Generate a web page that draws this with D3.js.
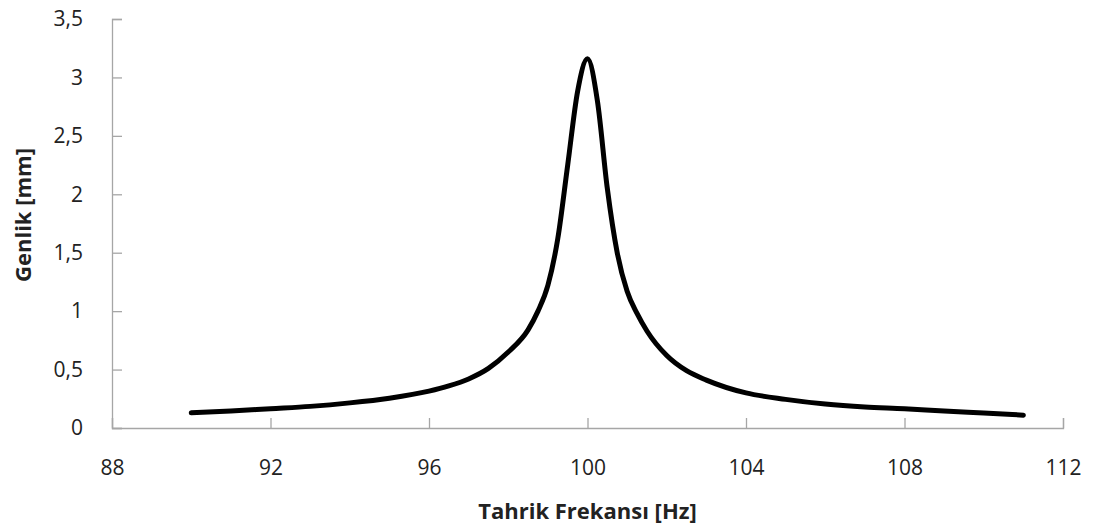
<!DOCTYPE html>
<html>
<head>
<meta charset="utf-8">
<script src="https://cdn.jsdelivr.net/npm/d3@7"></script>
<style>
  body { margin: 0; background: #fff; }
  text { font-family: "Open Sans", sans-serif; fill: #222; }
</style>
</head>
<body>
<svg id="chart"></svg>
<script>
'use strict';

const frequencies = [90, 91, 92, 93, 94, 95, 96, 96.5, 97, 97.5, 98, 98.5, 98.75, 99, 99.25, 99.5, 99.75,
  100, 100.25, 100.5, 100.75, 101, 101.25, 101.5, 102, 102.5, 103, 104, 105, 106, 107, 108, 109, 110, 111];
const amplitudes = [0.13, 0.145, 0.165, 0.185, 0.215, 0.255, 0.315, 0.36, 0.42, 0.51, 0.65, 0.84, 1.0, 1.22, 1.62, 2.25, 2.88,
  3.16, 2.8, 2.05, 1.5, 1.17, 0.98, 0.83, 0.62, 0.49, 0.41, 0.3, 0.245, 0.205, 0.18, 0.165, 0.145, 0.128, 0.11];
const xTicks = [88, 92, 96, 100, 104, 108, 112];
const yTicks = [0, 0.5, 1, 1.5, 2, 2.5, 3, 3.5];

const W = 1103, H = 529;
const margin = { top: 19, right: 40, bottom: 101, left: 112 };
const width = 1063 - margin.left;
const height = 428 - margin.top;

const svg = d3.select('#chart').attr('width', W).attr('height', H);
const g = svg.append('g').attr('transform', 'translate(' + margin.left + ',' + margin.top + ')');

const x = d3.scaleLinear().domain([88, 112]).range([0, width]);
const y = d3.scaleLinear().domain([0, 3.5]).range([height, 0]);
const fmt = d => String(d).replace('.', ',');

const xAxis = g.append('g')
  .attr('transform', 'translate(0,' + height + ')')
  .call(d3.axisBottom(x).tickValues(xTicks).tickSize(-10).tickPadding(32).tickFormat(fmt));

const yAxis = g.append('g')
  .call(d3.axisLeft(y).tickValues(yTicks).tickSize(-10).tickPadding(29).tickFormat(fmt));

[xAxis, yAxis].forEach(a => {
  a.select('.domain').attr('stroke', '#a6a6a6').attr('stroke-width', 1.3);
  a.selectAll('.tick line').attr('stroke', '#a6a6a6').attr('stroke-width', 1.3);
  a.selectAll('.tick text')
    .style('font-family', '"Open Sans", sans-serif')
    .style('font-size', '21px')
    .attr('fill', '#222');
});

const data = frequencies.map((f, i) => ({ f: f, a: amplitudes[i] }));

g.append('path')
  .datum(data)
  .attr('fill', 'none')
  .attr('stroke', '#000')
  .attr('stroke-width', 5)
  .attr('stroke-linecap', 'round')
  .attr('stroke-linejoin', 'round')
  .attr('d', d3.line().x(d => x(d.f)).y(d => y(d.a)).curve(d3.curveMonotoneX));

svg.append('text')
  .attr('x', margin.left + width / 2)
  .attr('y', 519)
  .attr('text-anchor', 'middle')
  .style('font-size', '22px')
  .style('font-weight', 'bold')
  .text('Tahrik Frekansı [Hz]');

svg.append('text')
  .attr('transform', 'translate(31,215) rotate(-90)')
  .attr('text-anchor', 'middle')
  .style('font-size', '22px')
  .style('font-weight', 'bold')
  .text('Genlik [mm]');
</script>
</body>
</html>
